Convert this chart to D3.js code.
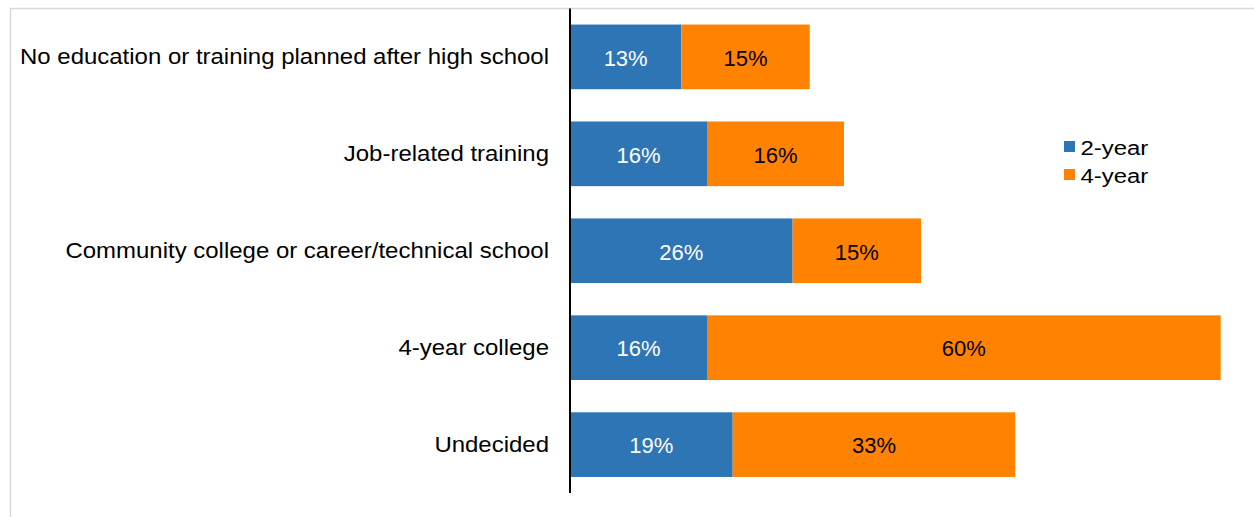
<!DOCTYPE html>
<html>
<head>
<meta charset="utf-8">
<script src="https://cdn.jsdelivr.net/npm/d3@7"></script>
<style>
  html, body { margin: 0; padding: 0; background: #ffffff; }
  svg { display: block; font-family: "Liberation Sans", Arial, sans-serif; }
</style>
</head>
<body>
<svg id="chart" width="1254" height="517"></svg>
<script>
// Plans after high school, by type of institution
const categories = [
  "No education or training planned after high school",
  "Job-related training",
  "Community college or career/technical school",
  "4-year college",
  "Undecided"
];
const seriesNames = ["2-year", "4-year"];
const twoYear = [13, 16, 26, 16, 19];
const fourYear = [15, 16, 15, 60, 33];
const colors = ["#2E75B6", "#FF8300"];
const labelColors = ["#ffffff", "#000000"];

const svg = d3.select("#chart");
const W = 1254, H = 517;

// light frame around the plot area
svg.append("rect")
  .attr("x", 10.5).attr("y", 8.5)
  .attr("width", W + 10).attr("height", H + 10)
  .attr("fill", "none").attr("stroke", "#d9d9d9").attr("stroke-width", 1.5);

const rows = categories.map((c, i) => ({ cat: c, values: [twoYear[i], fourYear[i]] }));
const stack = d3.stack().keys([0, 1]).value((d, k) => d.values[k]);
const layers = stack(rows);

const x = d3.scaleLinear().domain([0, 76]).range([570, 1220.7]);
const y = d3.scaleBand().domain(categories).range([8.4, 493.1])
  .paddingInner(0.333).paddingOuter(0.1665);

const g = svg.append("g");
layers.forEach((layer, k) => {
  const lg = g.append("g");
  lg.selectAll("rect").data(layer).join("rect")
    .attr("x", d => x(d[0]))
    .attr("y", d => y(d.data.cat))
    .attr("width", d => x(d[1]) - x(d[0]))
    .attr("height", y.bandwidth())
    .attr("fill", colors[k]);
  lg.selectAll("text").data(layer).join("text")
    .attr("x", d => (x(d[0]) + x(d[1])) / 2)
    .attr("y", d => y(d.data.cat) + y.bandwidth() / 2)
    .attr("dy", "0.4em")
    .attr("text-anchor", "middle")
    .attr("font-size", 22)
    .attr("fill", labelColors[k])
    .text(d => (d[1] - d[0]) + "%");
});

// category axis
const yAxis = d3.axisLeft(y).tickSize(0).tickPadding(0);
const ax = svg.append("g").attr("transform", "translate(570,0)").call(yAxis);
ax.select(".domain").attr("stroke", "#000").attr("stroke-width", 2)
  .attr("d", `M0,${y.range()[0]}V${y.range()[1]}`);
ax.selectAll(".tick text")
  .attr("x", null)
  .attr("dy", "0.34em")
  .attr("transform", "translate(-21,0) scale(1.09,1)")
  .attr("font-size", 22).attr("fill", "#000")
  .attr("font-family", "\"Liberation Sans\", Arial, sans-serif");

// legend
const legend = svg.append("g").attr("transform", "translate(1064,141)");
seriesNames.forEach((name, i) => {
  const row = legend.append("g").attr("transform", `translate(0,${i * 28})`);
  row.append("rect").attr("width", 11).attr("height", 11).attr("fill", colors[i]);
  row.append("text")
    .attr("transform", "translate(16.5,14) scale(1.14,1)")
    .attr("font-size", 21).attr("fill", "#000").text(name);
});
</script>
</body>
</html>
